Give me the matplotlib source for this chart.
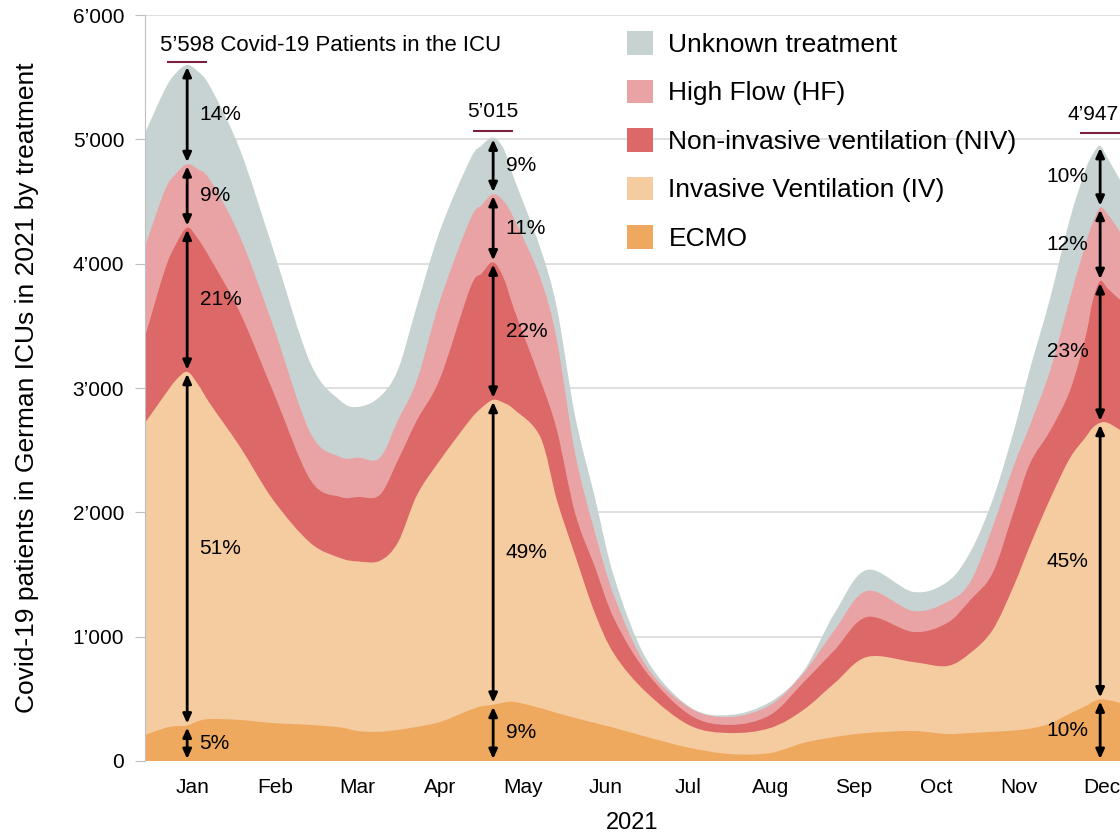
import numpy as np
import matplotlib.pyplot as plt
from matplotlib.patches import Patch, PathPatch
from matplotlib.path import Path

plt.rcParams['font.family'] = ['Liberation Sans', 'DejaVu Sans']

# x in months since 1 Jan 2021
x = [0.00, 0.24, 0.37, 0.51, 0.64, 0.79, 1.15, 1.55, 2.00, 2.36, 2.58, 2.84, 3.06, 3.29, 3.57,
     3.93, 4.07, 4.21, 4.34, 4.47, 4.78, 4.98, 5.20, 5.44, 5.68, 6.07, 6.59, 7.07, 7.56,
     7.96, 8.34, 8.73, 9.29, 9.70, 9.98, 10.25, 10.50, 10.70, 10.94, 11.18, 11.37, 11.46,
     11.55, 11.64, 11.79]

ecmo = [209, 265, 280, 285, 320, 338, 330, 305, 290, 270, 240, 235, 250, 275, 314,
        410, 440, 452, 470, 475, 426, 386, 346, 306, 265, 193, 105, 56, 64,
        145, 193, 225, 241, 217, 225, 235, 245, 260, 300, 380, 440, 475,
        495, 490, 467]
iv = [2510, 2680, 2780, 2845, 2710, 2532, 2196, 1795, 1464, 1363, 1365, 1375, 1510, 1865, 2108,
      2333, 2400, 2453, 2410, 2349, 2181, 1714, 1311, 884, 588, 354, 180, 169, 201,
      265, 434, 612, 555, 547, 644, 819, 1155, 1470, 1800, 2050, 2160, 2205,
      2225, 2230, 2196]
niv = [692, 1005, 1090, 1160, 1170, 1170, 1078, 870, 507, 491, 519, 530, 661, 603, 658,
       1057, 1080, 1105, 1000, 796, 458, 563, 338, 371, 281, 161, 85, 65, 105,
       220, 266, 321, 242, 346, 426, 458, 595, 660, 550, 540, 800, 1020,
       1140, 1080, 1046]
hf = [724, 640, 570, 510, 560, 630, 612, 530, 378, 322, 316, 298, 322, 322, 629,
      552, 550, 550, 620, 732, 821, 724, 483, 280, 180, 48, 56, 64, 80,
      75, 161, 210, 169, 169, 145, 371, 370, 310, 480, 739, 750, 630,
      590, 600, 547]
unknown = [915, 810, 810, 798, 785, 750, 699, 615, 561, 454, 408, 492, 407, 602, 563,
           483, 480, 455, 420, 322, 240, 260, 300, 280, 150, 57, 8, 16, 25,
           15, 136, 169, 153, 161, 241, 217, 275, 450, 579, 641, 600, 550,
           497, 450, 418]

labels = ['ECMO', 'Invasive Ventilation (IV)', 'Non-invasive ventilation (NIV)',
          'High Flow (HF)', 'Unknown treatment']
colors = ['#eea95e', '#f5cba0', '#dd6868', '#e9a3a5', '#c7d3d2']

months = ['Jan', 'Feb', 'Mar', 'Apr', 'May', 'Jun', 'Jul', 'Aug', 'Sep', 'Oct', 'Nov', 'Dec']
peak_x = [0.51, 4.21, 11.55]

layers = np.array([ecmo, iv, niv, hf, unknown], dtype=float)
cum = np.vstack([np.zeros(len(x)), np.cumsum(layers, axis=0)])


def fmt(v):
    return f"{int(round(v)):,}".replace(',', '\u2019')


def smooth_area(xs, ys):
    # area under a smoothed (Catmull-Rom style bezier) line, like a spreadsheet "smooth line"
    pts = np.column_stack([xs, ys])
    n = len(pts)
    verts = [pts[0]]
    codes = [Path.MOVETO]
    for i in range(n - 1):
        p0 = pts[max(i - 1, 0)]
        p1 = pts[i]
        p2 = pts[i + 1]
        p3 = pts[min(i + 2, n - 1)]
        verts += [p1 + (p2 - p0) / 6, p2 - (p3 - p1) / 6, p2]
        codes += [Path.CURVE4] * 3
    verts += [(xs[-1], 0), (xs[0], 0), pts[0]]
    codes += [Path.LINETO, Path.LINETO, Path.CLOSEPOLY]
    return Path(verts, codes)


fig = plt.figure(figsize=(11.2, 8.33), dpi=100)
ax = fig.add_axes([145 / 1120, 1 - 761 / 833, 975 / 1120, (761 - 15) / 833])

# draw the cumulative areas from the top layer down so each covers the one above
for j in range(5, 0, -1):
    ax.add_patch(PathPatch(smooth_area(np.array(x), cum[j]), facecolor=colors[j - 1],
                           edgecolor='none', zorder=2))

ax.set_xlim(0, 11.79)
ax.set_ylim(0, 6000)
ax.set_yticks(range(0, 6001, 1000))
ax.set_yticklabels([fmt(v) for v in range(0, 6001, 1000)], fontsize=15)
ax.set_xticks([i + 0.57 for i in range(12)])
ax.set_xticklabels(months, fontsize=15)
ax.tick_params(axis='x', length=0, pad=12)
ax.tick_params(axis='y', length=7, color='#bfbfbf', pad=8)
ax.yaxis.grid(True, color='#d9d9d9', linewidth=1.2, zorder=0)
ax.set_axisbelow(True)
for s in ['top', 'right', 'bottom']:
    ax.spines[s].set_visible(False)
ax.spines['left'].set_color('#bfbfbf')

ax.set_xlabel('2021', fontsize=17, labelpad=11)
ax.set_ylabel('Covid-19 patients in German ICUs in 2021 by treatment', fontsize=19, labelpad=24)

# arrows and percentages at the three peaks
arrow_kw = dict(arrowstyle='<|-|>,head_length=0.55,head_width=0.25', color='black',
                lw=2, shrinkA=1.5, shrinkB=1.5)
line_off = [25, 52, 104]
text_off = [153, 205, 249]
text_dx = [0, 0, -0.08]
for k, px in enumerate(peak_x):
    i = x.index(px)
    total = cum[-1, i]
    for j in range(5):
        lo, hi = cum[j, i], cum[j + 1, i]
        ax.annotate('', xy=(px, lo), xytext=(px, hi), arrowprops=arrow_kw, zorder=5)
        pct = f"{round(layers[j, i] / total * 100)}%"
        if k < 2:
            ax.text(px + 0.15, (lo + hi) / 2, pct, fontsize=15, ha='left', va='center', zorder=6)
        else:
            ax.text(px - 0.14, (lo + hi) / 2, pct, fontsize=15, ha='right', va='center', zorder=6)
    ax.plot([px - 0.24, px + 0.24], [total + line_off[k]] * 2, color='#7a1f3d', lw=1.5,
            solid_capstyle='butt', clip_on=False, zorder=6)
    if k == 0:
        ax.text(0.18, total + text_off[k], fmt(total) + ' Covid-19 Patients in the ICU',
                fontsize=16, ha='left', va='center')
    else:
        ax.text(px + text_dx[k], total + text_off[k], fmt(total), fontsize=15,
                ha='center', va='center', clip_on=False)

handles = [Patch(facecolor=c, edgecolor='none') for c in colors[::-1]]
fig.legend(handles, labels[::-1], loc='upper left', bbox_to_anchor=(627 / 1120, 1 - 31 / 833),
           frameon=False, fontsize=19, handlelength=1.0, handleheight=1.0,
           labelspacing=0.86, handletextpad=0.57, borderaxespad=0, borderpad=0)

fig.savefig('out.png', dpi=100)
